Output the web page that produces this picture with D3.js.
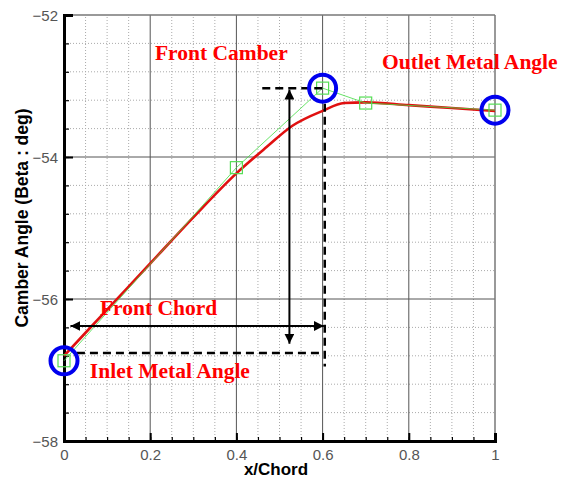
<!DOCTYPE html>
<html>
<head>
<meta charset="utf-8">
<script src="https://cdn.jsdelivr.net/npm/d3@7"></script>
<style>
  body { margin: 0; background: #fff; }
  svg { display: block; }
</style>
</head>
<body>
<div id="chart"></div>
<script>
// Red curve (smooth camber line)
const camberX = [0, 0.1, 0.2, 0.3, 0.4, 0.47, 0.53, 0.6, 0.65, 0.7, 0.8, 0.9, 1.0];
const camberY = [-56.8, -56.15, -55.5, -54.85, -54.23, -53.86, -53.56, -53.35, -53.24, -53.23, -53.27, -53.31, -53.35];

// Green control polygon with square markers
const ctrlX = [0, 0.4, 0.6, 0.7, 1.0];
const ctrlY = [-56.87, -54.15, -53.03, -53.24, -53.34];

// Blue circled points (inlet, front camber peak, outlet)
const circleX = [0, 0.6, 1.0];
const circleY = [-56.87, -53.03, -53.34];

const xTicks = [0, 0.2, 0.4, 0.6, 0.8, 1];
const yTicks = [-58, -56, -54, -52];

const width = 568;
const height = 478;
const margin = { left: 64, right: 73, top: 15, bottom: 37 };

const x = d3.scaleLinear().domain([0, 1]).range([margin.left, width - margin.right]);
const y = d3.scaleLinear().domain([-58, -52]).range([height - margin.bottom, margin.top]);

const svg = d3.select('#chart').append('svg')
  .attr('width', width).attr('height', height);

const defs = svg.append('defs');
defs.append('marker').attr('id', 'arrow')
  .attr('viewBox', '0 0 10 10').attr('refX', 10).attr('refY', 5)
  .attr('markerWidth', 10).attr('markerHeight', 10)
  .attr('markerUnits', 'userSpaceOnUse')
  .attr('orient', 'auto-start-reverse')
  .append('path').attr('d', 'M0,0L10,5L0,10z').attr('fill', '#000');

const grid = svg.append('g');
// minor grid (dotted)
grid.selectAll('.vminor').data(d3.range(1, 20).map(i => i * 0.05).filter(v => Math.round(v * 100) % 20 !== 0))
  .join('line')
  .attr('x1', d => x(d)).attr('x2', d => x(d))
  .attr('y1', y(-58)).attr('y2', y(-52))
  .attr('stroke', '#aaa').attr('stroke-width', 1).attr('stroke-dasharray', '1,2');
grid.selectAll('.hminor').data(d3.range(1, 15).map(i => -58 + i * 0.4).filter(v => Math.abs(v - Math.round(v / 2) * 2) > 0.01))
  .join('line')
  .attr('x1', x(0)).attr('x2', x(1))
  .attr('y1', d => y(d)).attr('y2', d => y(d))
  .attr('stroke', '#aaa').attr('stroke-width', 1).attr('stroke-dasharray', '1,2');
// major grid (solid)
grid.selectAll('.vmajor').data([0.2, 0.4, 0.6, 0.8])
  .join('line')
  .attr('x1', d => x(d)).attr('x2', d => x(d))
  .attr('y1', y(-58)).attr('y2', y(-52))
  .attr('stroke', '#555').attr('stroke-width', 1);
grid.selectAll('.hmajor').data([-56, -54])
  .join('line')
  .attr('x1', x(0)).attr('x2', x(1))
  .attr('y1', d => y(d)).attr('y2', d => y(d))
  .attr('stroke', '#555').attr('stroke-width', 1);
// top and right frame
svg.append('line').attr('x1', x(0)).attr('x2', x(1)).attr('y1', y(-52)).attr('y2', y(-52))
  .attr('stroke', '#777').attr('stroke-width', 1.5);
svg.append('line').attr('x1', x(1)).attr('x2', x(1)).attr('y1', y(-58)).attr('y2', y(-52))
  .attr('stroke', '#777').attr('stroke-width', 1.5);

// axes
const xAxis = svg.append('g').attr('transform', `translate(0,${y(-58)})`)
  .call(d3.axisBottom(x).tickValues(xTicks).tickFormat(d3.format('')).tickSize(-8).tickPadding(8));
const xMinor = svg.append('g').attr('transform', `translate(0,${y(-58)})`)
  .call(d3.axisBottom(x).tickValues(d3.range(0, 21).map(i => i * 0.05)).tickFormat('').tickSize(-4));
const yAxis = svg.append('g').attr('transform', `translate(${x(0)},0)`)
  .call(d3.axisLeft(y).tickValues(yTicks).tickFormat(d3.format('')).tickSize(-9).tickPadding(6));
const yMinor = svg.append('g').attr('transform', `translate(${x(0)},0)`)
  .call(d3.axisLeft(y).tickValues(d3.range(0, 16).map(i => -58 + i * 0.4)).tickFormat('').tickSize(-5));
[xAxis, xMinor, yAxis, yMinor].forEach(g => {
  g.select('.domain').attr('stroke', '#000').attr('stroke-width', 3);
  g.selectAll('.tick line').attr('stroke', '#000').attr('stroke-width', 2);
});
[xMinor, yMinor].forEach(g => g.selectAll('.tick line').attr('stroke-width', 1.2));
[xAxis, yAxis].forEach(g => g.selectAll('text')
  .attr('font-family', 'Liberation Sans, Arial, sans-serif').attr('font-size', 15).attr('fill', '#555'));
yAxis.selectAll('text').attr('dy', '0.35em');
xAxis.selectAll('text').attr('dy', '0.71em');

// axis titles
svg.append('text').attr('x', 276).attr('y', 475)
  .attr('text-anchor', 'middle').attr('font-family', 'Liberation Sans, Arial, sans-serif')
  .attr('font-weight', 'bold').attr('font-size', 17).text('x/Chord');
svg.append('text').attr('transform', 'translate(28,218) rotate(-90)')
  .attr('text-anchor', 'middle').attr('font-family', 'Liberation Sans, Arial, sans-serif')
  .attr('font-weight', 'bold').attr('font-size', 17.5).text('Camber Angle (Beta : deg)');

// red camber line
const camber = camberX.map((v, i) => [v, camberY[i]]);
svg.append('path').datum(camber)
  .attr('d', d3.line().curve(d3.curveMonotoneX).x(d => x(d[0])).y(d => y(d[1])))
  .attr('fill', 'none').attr('stroke', '#e01010').attr('stroke-width', 2.6);

// green control polygon
const ctrl = ctrlX.map((v, i) => [v, ctrlY[i]]);
svg.append('path').datum(ctrl)
  .attr('d', d3.line().x(d => x(d[0])).y(d => y(d[1])))
  .attr('fill', 'none').attr('stroke', '#44dd44').attr('stroke-width', 1).attr('stroke-opacity', 0.8);

svg.selectAll('.sq').data(ctrl).join('rect')
  .attr('x', d => x(d[0]) - 6).attr('y', d => y(d[1]) - 6)
  .attr('width', 12).attr('height', 12)
  .attr('fill', 'none').attr('stroke', '#55dd55').attr('stroke-width', 1.2);

// annotation lines (data coordinates)
const dash = { stroke: '#000', 'stroke-width': 2.5, 'stroke-dasharray': '8,5' };
function line(x1, y1, x2, y2, attrs) {
  const l = svg.append('line')
    .attr('x1', x(x1)).attr('y1', y(y1)).attr('x2', x(x2)).attr('y2', y(y2));
  Object.entries(attrs).forEach(([k, v]) => l.attr(k, v));
  return l;
}
line(0.46, -53.03, 0.6, -53.03, dash);
line(0.605, -53.25, 0.605, -56.95, dash);
line(0.03, -56.76, 0.605, -56.76, dash);
line(0.015, -56.38, 0.603, -56.38, { stroke: '#000', 'stroke-width': 2, 'marker-start': 'url(#arrow)', 'marker-end': 'url(#arrow)' });
line(0.523, -53.05, 0.523, -56.63, { stroke: '#000', 'stroke-width': 2, 'marker-start': 'url(#arrow)', 'marker-end': 'url(#arrow)' });

// blue circles
svg.selectAll('.circ').data(circleX.map((v, i) => [v, circleY[i]])).join('circle')
  .attr('cx', d => x(d[0])).attr('cy', d => y(d[1])).attr('r', 13.5)
  .attr('fill', 'none').attr('stroke', '#0000ee').attr('stroke-width', 4);

// labels
const labels = [
  { text: 'Front Camber', px: 0.211, py: -52.63 },
  { text: 'Outlet Metal Angle', px: 0.738, py: -52.76 },
  { text: 'Front Chord', px: 0.0835, py: -56.22 },
  { text: 'Inlet Metal Angle', px: 0.06, py: -57.11 }
];
svg.selectAll('.lbl').data(labels).join('text')
  .attr('x', d => x(d.px)).attr('y', d => y(d.py))
  .attr('font-family', 'Liberation Serif, Times New Roman, serif')
  .attr('font-weight', 'bold').attr('font-size', 21.5).attr('fill', '#ff0000')
  .text(d => d.text);
</script>
</body>
</html>
